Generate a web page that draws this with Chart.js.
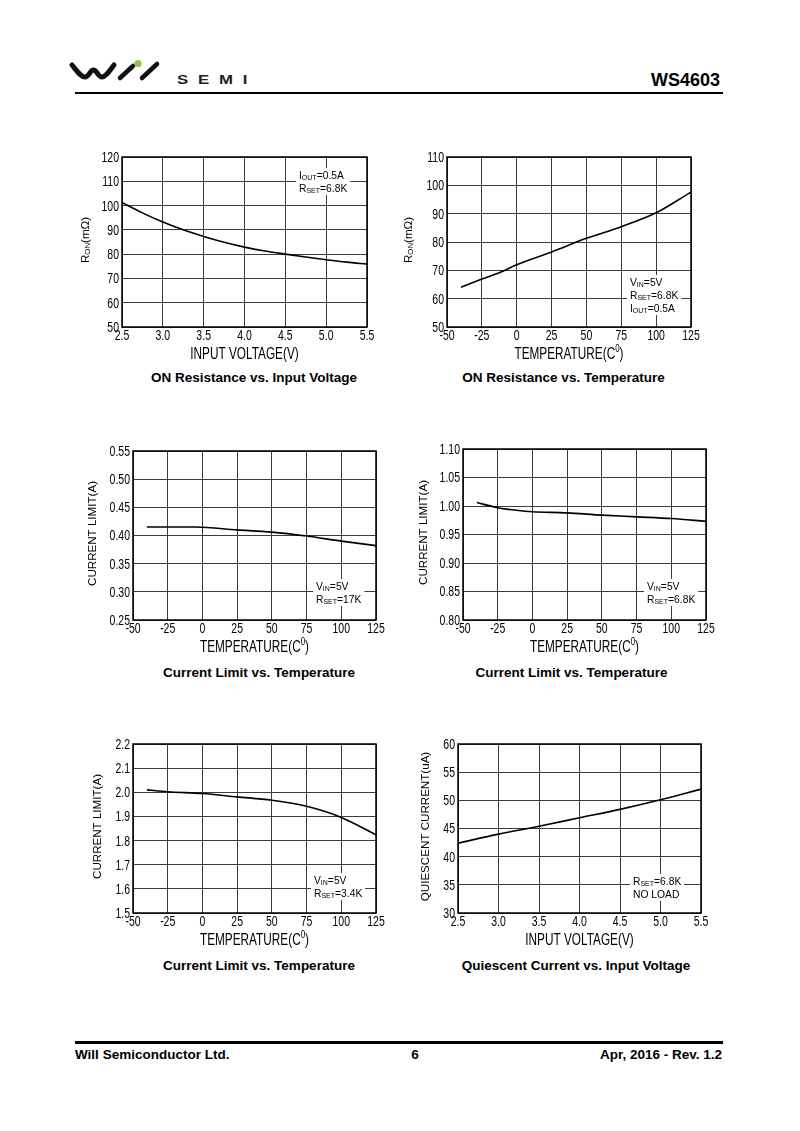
<!DOCTYPE html>
<html>
<head>
<meta charset="utf-8">
<title>WS4603 typical characteristics</title>
<script src="https://cdn.jsdelivr.net/npm/chart.js@4.4.1/dist/chart.umd.min.js"></script>
<style>
  body { margin: 0; background: #fff; }
  #page { position: relative; width: 800px; height: 1131px; overflow: hidden; font-family: "Liberation Sans", Arial, sans-serif; color: #000; }
  #page canvas { position: absolute; }
  .txt { position: absolute; white-space: nowrap; line-height: 1; }
  .cap { font-weight: bold; font-size: 13.5px; transform: translateX(-50%); }
  .foot { font-weight: bold; font-size: 13.5px; }
  .rule { position: absolute; left: 75px; width: 648px; height: 2.5px; background: #000; }
</style>
</head>
<body>
<div id="page">
  <svg style="position:absolute;left:0;top:0" width="800" height="100">
    <path d="M72,65 C77,71 81,77 85,77 C89,77 90,70 93.5,70 C97,70 98,77 102,77 C106,77 110,70 114,65" fill="none" stroke="#111" stroke-width="5" stroke-linecap="round"/>
    <path d="M120,78 L133,66 M142,78 L157,64" stroke="#111" stroke-width="4.5" stroke-linecap="round"/>
    <circle cx="138" cy="63.5" r="3.6" fill="#8dc63f"/>
  </svg>
  <div class="txt" style="left:177px;top:73.5px;font-size:12px;font-weight:bold;letter-spacing:7px;transform:scaleX(1.4);transform-origin:left;color:#222">SEMI</div>
  <div class="txt" style="right:80px;top:70.8px;font-size:18px;font-weight:bold">WS4603</div>
  <div class="rule" style="top:91.5px"></div>

  <div class="txt cap" style="left:254px;top:371.4px">ON Resistance vs. Input Voltage</div>
  <div class="txt cap" style="left:563.5px;top:371.4px">ON Resistance vs. Temperature</div>
  <div class="txt cap" style="left:259px;top:666px">Current Limit vs. Temperature</div>
  <div class="txt cap" style="left:571.5px;top:666px">Current Limit vs. Temperature</div>
  <div class="txt cap" style="left:259px;top:959px">Current Limit vs. Temperature</div>
  <div class="txt cap" style="left:576px;top:959px">Quiescent Current vs. Input Voltage</div>

  <div class="rule" style="top:1041px"></div>
  <div class="txt foot" style="left:75px;top:1047.6px">Will Semiconductor Ltd.</div>
  <div class="txt foot" style="left:415px;top:1047.6px;transform:translateX(-50%)">6</div>
  <div class="txt foot" style="right:78px;top:1047.6px">Apr, 2016 - Rev. 1.2</div>
</div>

<script>
// ---- data ----
const vinPoints = [2.5, 2.75, 3.0, 3.25, 3.5, 3.75, 4.0, 4.25, 4.5, 4.75, 5.0, 5.25, 5.5];
const ronVsVin = [101.3, 97.0, 93.2, 90.0, 87.3, 84.9, 82.9, 81.3, 80.0, 78.8, 77.7, 76.7, 75.9];

const ronTemps = [-40, -25, -10, 0, 25, 50, 75, 100, 125];
const ronVsTemp = [64.0, 66.9, 69.7, 72.0, 76.5, 81.3, 85.4, 90.3, 97.6];

const lim17kTemps = [-40, -25, -5, 25, 50, 75, 100, 125];
const lim17k = [0.415, 0.415, 0.415, 0.410, 0.406, 0.399, 0.390, 0.382];

const lim68kTemps = [-40, -25, -10, 0, 25, 50, 75, 100, 125];
const lim68k = [1.006, 0.997, 0.992, 0.990, 0.988, 0.984, 0.981, 0.978, 0.973];

const lim34kTemps = [-40, -25, 0, 25, 50, 75, 100, 125];
const lim34k = [2.010, 2.002, 1.995, 1.981, 1.967, 1.942, 1.896, 1.824];

const iqVin = [2.5, 3.0, 3.5, 4.0, 4.5, 5.0, 5.5];
const iqVsVin = [42.4, 44.0, 45.4, 46.9, 48.4, 50.1, 52.0];

// ---- tick labels ----
const vinTicks = [2.5, 3.0, 3.5, 4.0, 4.5, 5.0, 5.5];
const tempTicks = [-50, -25, 0, 25, 50, 75, 100, 125];
const ronVinTicks = [50, 60, 70, 80, 90, 100, 110, 120];
const ronTempTicks = [50, 60, 70, 80, 90, 100, 110];
const lim17kTicks = [0.25, 0.30, 0.35, 0.40, 0.45, 0.50, 0.55];
const lim68kTicks = [0.80, 0.85, 0.90, 0.95, 1.00, 1.05, 1.10];
const lim34kTicks = [1.5, 1.6, 1.7, 1.8, 1.9, 2.0, 2.1, 2.2];
const iqTicks = [30, 35, 40, 45, 50, 55, 60];

const FONT = '"Liberation Sans", Arial, sans-serif';
const GRID = '#3c3c3c';

// segments: [text, kind] kind 0 = normal, 1 = subscript, 2 = superscript
function segSize(k, size) { return k ? size * 0.68 : size; }

function richWidth(ctx, segs, size) {
  let w = 0;
  segs.forEach(([t, k]) => { ctx.font = segSize(k, size) + 'px ' + FONT; w += ctx.measureText(t).width; });
  return w;
}

function drawRich(ctx, segs, x, y, o) {
  const size = o.size, sy = o.sy || 1;
  ctx.save();
  ctx.translate(x, y);
  if (o.rot) ctx.rotate(-Math.PI / 2);
  ctx.scale(1, sy);
  ctx.textAlign = 'left';
  ctx.textBaseline = 'alphabetic';
  const w = richWidth(ctx, segs, size);
  let cx = o.align === 'center' ? -w / 2 : o.align === 'right' ? -w : 0;
  const base = size * 0.358;
  segs.forEach(([t, k]) => {
    ctx.font = segSize(k, size) + 'px ' + FONT;
    const dy = k === 1 ? 1 : k === 2 ? -size * 0.42 : 0;
    ctx.fillText(t, cx, base + dy);
    cx += ctx.measureText(t).width;
  });
  ctx.restore();
}

const sheetPlugin = {
  id: 'sheet',
  beforeDatasetsDraw(chart, args, o) {
    const { ctx, chartArea: a } = chart;
    const size = 10.3, lh = 13;
    let w = 0;
    o.notes.forEach(n => { w = Math.max(w, richWidth(ctx, n, size)); });
    const x = a.left + o.noteAt[0], y = a.top + o.noteAt[1];
    ctx.save();
    ctx.fillStyle = '#fff';
    ctx.fillRect(x - 3, y - 7, w + 6, lh * (o.notes.length - 1) + 14);
    ctx.fillStyle = '#000';
    o.notes.forEach((n, i) => drawRich(ctx, n, x, y + i * lh, { size, align: 'left' }));
    ctx.restore();
  },
  afterDraw(chart, args, o) {
    const { ctx, chartArea: a, scales: { x, y } } = chart;
    ctx.save();
    ctx.strokeStyle = '#000';
    ctx.lineWidth = 1.5;
    ctx.strokeRect(a.left, a.top, a.right - a.left, a.bottom - a.top);
    ctx.fillStyle = '#000';
    x.ticks.forEach(t => drawRich(ctx, [[t.value.toFixed(o.xDec), 0]], x.getPixelForValue(t.value), a.bottom + 8, { size: 10.5, align: 'center', sy: 1.33 }));
    y.ticks.forEach(t => drawRich(ctx, [[t.value.toFixed(o.yDec), 0]], a.left - 3, y.getPixelForValue(t.value), { size: 10.5, align: 'right', sy: 1.33 }));
    drawRich(ctx, o.xTitle, (a.left + a.right) / 2, a.bottom + 26, { size: 11.8, align: 'center', sy: 1.33 });
    drawRich(ctx, o.yTitle, a.left - o.yTitleGap, (a.top + a.bottom) / 2 - 2, { size: 11.6, align: 'center', rot: true });
    ctx.restore();
  }
};

function fixBox(size) {
  return s => {
    if (s.isHorizontal()) s.height = size; else s.width = size;
    s.paddingLeft = s.paddingRight = s.paddingTop = s.paddingBottom = 0;
  };
}

function makeChart(c) {
  const cv = document.createElement('canvas');
  cv.width = c.box[2];
  cv.height = c.box[3];
  cv.style.left = c.box[0] + 'px';
  cv.style.top = c.box[1] + 'px';
  document.getElementById('page').appendChild(cv);
  return new Chart(cv.getContext('2d'), {
    type: 'line',
    data: {
      datasets: [{
        data: c.xs.map((v, i) => ({ x: v, y: c.ys[i] })),
        borderColor: '#000',
        borderWidth: 1.6,
        pointRadius: 0,
        fill: false,
        cubicInterpolationMode: 'monotone'
      }]
    },
    options: {
      responsive: false,
      animation: false,
      devicePixelRatio: 1,
      layout: { padding: { left: 30, right: 15, top: 10, bottom: 0 } },
      plugins: {
        legend: { display: false },
        tooltip: { enabled: false },
        sheet: c.sheet
      },
      scales: {
        x: {
          type: 'linear',
          min: c.xTicks[0], max: c.xTicks[c.xTicks.length - 1],
          afterBuildTicks: s => { s.ticks = c.xTicks.map(v => ({ value: v })); },
          ticks: { display: false },
          grid: { color: GRID, lineWidth: 1, drawTicks: false },
          border: { display: false },
          afterFit: fixBox(45)
        },
        y: {
          type: 'linear',
          min: c.yTicks[0], max: c.yTicks[c.yTicks.length - 1],
          afterBuildTicks: s => { s.ticks = c.yTicks.map(v => ({ value: v })); },
          ticks: { display: false },
          grid: { color: GRID, lineWidth: 1, drawTicks: false },
          border: { display: false },
          afterFit: fixBox(30)
        }
      }
    },
    plugins: [sheetPlugin]
  });
}

const vinTitle = [['INPUT VOLTAGE(V)', 0]];
const tempTitle = [['TEMPERATURE(C', 0], ['0', 2], [')', 0]];
const ronTitle = [['R', 0], ['ON', 1], ['(m\u03A9)', 0]];
const limTitle = [['CURRENT LIMIT(A)', 0]];

makeChart({
  box: [62, 147, 320, 225], xs: vinPoints, ys: ronVsVin, xTicks: vinTicks, yTicks: ronVinTicks,
  sheet: { xDec: 1, yDec: 0, xTitle: vinTitle, yTitle: ronTitle, yTitleGap: 37, noteAt: [177, 18],
    notes: [[['I', 0], ['OUT', 1], ['=0.5A', 0]], [['R', 0], ['SET', 1], ['=6.8K', 0]]] }
});
makeChart({
  box: [387, 147, 319, 225], xs: ronTemps, ys: ronVsTemp, xTicks: tempTicks, yTicks: ronTempTicks,
  sheet: { xDec: 0, yDec: 0, xTitle: tempTitle, yTitle: ronTitle, yTitleGap: 39, noteAt: [183, 125],
    notes: [[['V', 0], ['IN', 1], ['=5V', 0]], [['R', 0], ['SET', 1], ['=6.8K', 0]], [['I', 0], ['OUT', 1], ['=0.5A', 0]]] }
});
makeChart({
  box: [73, 441, 318, 224], xs: lim17kTemps, ys: lim17k, xTicks: tempTicks, yTicks: lim17kTicks,
  sheet: { xDec: 0, yDec: 2, xTitle: tempTitle, yTitle: limTitle, yTitleGap: 41, noteAt: [183, 135],
    notes: [[['V', 0], ['IN', 1], ['=5V', 0]], [['R', 0], ['SET', 1], ['=17K', 0]]] }
});
makeChart({
  box: [403, 439, 318, 226], xs: lim68kTemps, ys: lim68k, xTicks: tempTicks, yTicks: lim68kTicks,
  sheet: { xDec: 0, yDec: 2, xTitle: tempTitle, yTitle: limTitle, yTitleGap: 40, noteAt: [184, 137],
    notes: [[['V', 0], ['IN', 1], ['=5V', 0]], [['R', 0], ['SET', 1], ['=6.8K', 0]]] }
});
makeChart({
  box: [73, 734, 318, 224], xs: lim34kTemps, ys: lim34k, xTicks: tempTicks, yTicks: lim34kTicks,
  sheet: { xDec: 0, yDec: 1, xTitle: tempTitle, yTitle: limTitle, yTitleGap: 36, noteAt: [181, 136],
    notes: [[['V', 0], ['IN', 1], ['=5V', 0]], [['R', 0], ['SET', 1], ['=3.4K', 0]]] }
});
makeChart({
  box: [398, 734, 318, 224], xs: iqVin, ys: iqVsVin, xTicks: vinTicks, yTicks: iqTicks,
  sheet: { xDec: 1, yDec: 0, xTitle: vinTitle, yTitle: [['QUIESCENT CURRENT(uA)', 0]], yTitleGap: 33, noteAt: [175, 137],
    notes: [[['R', 0], ['SET', 1], ['=6.8K', 0]], [['NO LOAD', 0]]] }
});
</script>
</body>
</html>
